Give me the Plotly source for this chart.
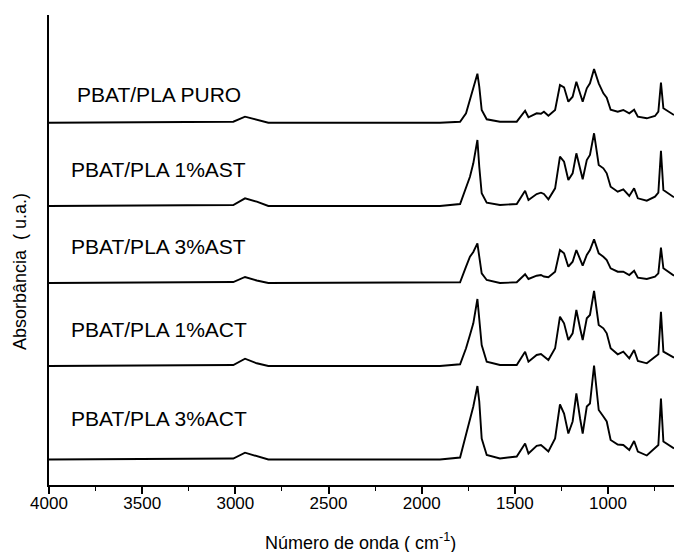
import plotly.graph_objects as go

# FTIR spectra of PBAT/PLA blends (stacked, offset vertically)
wavenumber = [4000, 3011, 2948, 2885, 2823, 1902, 1794, 1762, 1741, 1723,
              1701, 1691, 1678, 1651, 1580, 1490, 1445, 1427, 1383, 1360,
              1344, 1320, 1284, 1258, 1236, 1213, 1190, 1170, 1150, 1136,
              1114, 1097, 1075, 1050, 1025, 1007, 986, 948, 918, 886,
              860, 840, 792, 748, 730, 716, 703, 646]

puro = [0, 0.01, 0.06, 0.027, 0, 0, 0.01, 0.094, 0.227, 0.344,
        0.49, 0.36, 0.127, 0.034, 0.01, 0.01, 0.12, 0.054, 0.094, 0.09,
        0.11, 0.07, 0.127, 0.377, 0.354, 0.21, 0.26, 0.41, 0.294, 0.21,
        0.344, 0.394, 0.537, 0.394, 0.294, 0.25, 0.13, 0.11, 0.127, 0.094,
        0.13, 0.06, 0.044, 0.067, 0.11, 0.40, 0.144, 0.077]

ast1 = [0, 0.01, 0.077, 0.043, 0, 0, 0.02, 0.193, 0.293, 0.427,
        0.66, 0.393, 0.127, 0.033, 0.01, 0.02, 0.153, 0.06, 0.12, 0.133,
        0.12, 0.067, 0.177, 0.493, 0.443, 0.26, 0.327, 0.527, 0.36, 0.267,
        0.46, 0.51, 0.727, 0.41, 0.377, 0.327, 0.193, 0.143, 0.167, 0.10,
        0.177, 0.077, 0.053, 0.093, 0.133, 0.553, 0.16, 0.087]

ast3 = [0, 0.01, 0.06, 0.025, 0, 0, 0.007, 0.163, 0.263, 0.31,
        0.397, 0.263, 0.097, 0.03, 0, 0.007, 0.087, 0.04, 0.073, 0.08,
        0.065, 0.057, 0.113, 0.33, 0.297, 0.163, 0.213, 0.33, 0.23, 0.173,
        0.28, 0.33, 0.437, 0.297, 0.263, 0.23, 0.147, 0.113, 0.113, 0.08,
        0.123, 0.053, 0.04, 0.063, 0.097, 0.353, 0.147, 0.073]

act1 = [0, 0.01, 0.073, 0.027, 0, 0, 0.017, 0.177, 0.31, 0.427,
        0.67, 0.477, 0.21, 0.043, 0.01, 0.01, 0.143, 0.043, 0.11, 0.12,
        0.093, 0.06, 0.177, 0.493, 0.427, 0.26, 0.327, 0.56, 0.377, 0.26,
        0.477, 0.51, 0.75, 0.41, 0.377, 0.327, 0.177, 0.117, 0.143, 0.077,
        0.16, 0.05, 0.027, 0.093, 0.117, 0.543, 0.143, 0.083]

act3 = [0, 0.01, 0.068, 0.03, 0, 0, 0.02, 0.25, 0.41, 0.53,
        0.735, 0.58, 0.21, 0.045, 0.01, 0.03, 0.16, 0.06, 0.137, 0.145,
        0.12, 0.08, 0.21, 0.55, 0.46, 0.26, 0.38, 0.66, 0.41, 0.26,
        0.53, 0.56, 0.94, 0.495, 0.43, 0.38, 0.195, 0.15, 0.145, 0.095,
        0.185, 0.08, 0.04, 0.11, 0.145, 0.61, 0.18, 0.11]

labels = ["PBAT/PLA PURO", "PBAT/PLA 1%AST", "PBAT/PLA 3%AST",
          "PBAT/PLA 1%ACT", "PBAT/PLA 3%ACT"]
offsets = [3.623, 2.79, 2.02, 1.19, 0.255]
label_y = [3.91, 3.16, 2.39, 1.56, 0.67]

spectra = [puro, ast1, ast3, act1, act3]

FONT = "Liberation Sans, Arial, sans-serif"

fig = go.Figure()
for name, spec, off in zip(labels, spectra, offsets):
    fig.add_trace(go.Scatter(
        x=wavenumber,
        y=[v + off for v in spec],
        mode="lines",
        line=dict(color="black", width=1.9),
        name=name,
        showlegend=False,
    ))

annotations = []
for name, ly in zip(labels, label_y):
    annotations.append(dict(
        x=3410, y=ly, xref="x", yref="y", text=name, showarrow=False,
        xanchor="center", yanchor="middle",
        font=dict(family=FONT, size=21, color="black"),
    ))

annotations.append(dict(
    x=0.4976, y=0, xref="paper", yref="paper", yshift=-56,
    text="Número de onda ( cm<sup>-1</sup>)", showarrow=False,
    xanchor="center", yanchor="middle",
    font=dict(family=FONT, size=18, color="black"),
))
annotations.append(dict(
    x=0, y=0.453, xref="paper", yref="paper", xshift=-29,
    text="Absorbância  ( u.a.)", showarrow=False, textangle=-90,
    xanchor="center", yanchor="middle",
    font=dict(family=FONT, size=18, color="black"),
))

fig.update_layout(
    width=674, height=552,
    margin=dict(l=49, r=0, t=15, b=67),
    paper_bgcolor="white", plot_bgcolor="white",
    annotations=annotations,
    xaxis=dict(
        range=[4000, 646],
        tickvals=[4000, 3500, 3000, 2500, 2000, 1500, 1000],
        ticktext=["4000", "3500", "3000", "2500", "2000", "1500", "1000"],
        ticks="outside", ticklen=7, tickwidth=1.5, tickcolor="black",
        ticklabelstandoff=-5,
        minor=dict(dtick=250, ticks="outside", ticklen=4, tickwidth=1.2,
                   tickcolor="black", showgrid=False),
        showline=True, linewidth=2, linecolor="black",
        showgrid=False, zeroline=False,
        tickfont=dict(family=FONT, size=17, color="black"),
    ),
    yaxis=dict(
        range=[0, 4.70],
        showline=True, linewidth=2, linecolor="black",
        showgrid=False, zeroline=False,
        showticklabels=False, ticks="",
    ),
)

fig.write_html("out.html")
